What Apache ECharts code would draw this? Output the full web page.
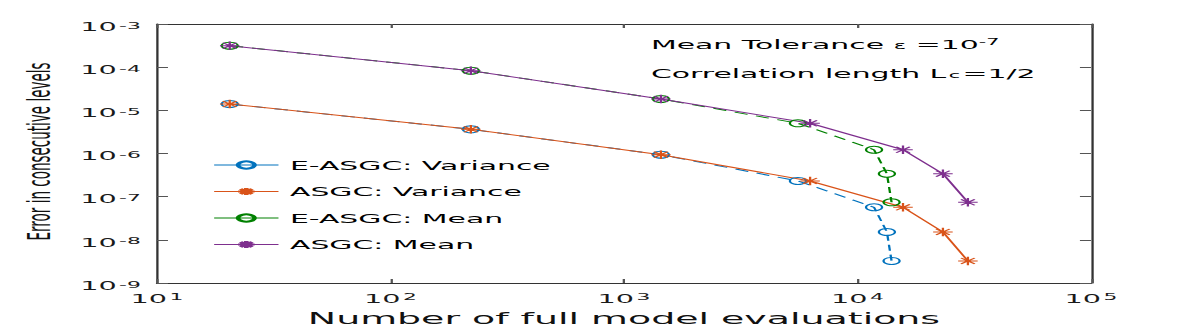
<!DOCTYPE html>
<html>
<head>
<meta charset="utf-8">
<title>Error in consecutive levels</title>
<style>
    html, body { margin: 0; padding: 0; background: #fff; overflow: hidden; }
    /* the original figure is stretched sideways, so draw narrow and widen */
    #error-chart { width: 524px; height: 327px; transform: scaleX(2.29771); transform-origin: 0 0; }
</style>
</head>
<body>
<div id="error-chart"></div>

<script src="https://cdn.jsdelivr.net/npm/echarts@6/dist/echarts.min.js"></script>
<script>
    var seriesNames = ['E-ASGC: Variance', 'ASGC: Variance', 'E-ASGC: Mean', 'ASGC: Mean']
    var evalsEASGC = [20.5, 221, 1440, 5560, 11780, 13370, 14000]
    var evalsASGC = [20.5, 221, 1440, 6270, 15670, 23230, 29720]
    var varianceErr = [1.40e-5, 3.64e-6, 9.38e-7, 2.31e-7, 5.68e-8, 1.52e-8, 3.24e-9]
    var meanErr = [3.14e-4, 8.28e-5, 1.83e-5, 5.01e-6, 1.22e-6, 3.40e-7, 7.41e-8]
    var xTickExp = [1, 2, 3, 4, 5]
    var yTickExp = [-9, -8, -7, -6, -5, -4, -3]

    var font = 'DejaVu Sans'
    var starPath = 'path://M-10,0L10,0M0,-10L0,10M-7,-7L7,7M-7,7L7,-7'

    function pairs(xs, ys) {
        return xs.map(function (x, i) { return [x, ys[i]] })
    }

    function powLabel(v) {
        return '{b|10}{s|' + Math.round(Math.log10(v)) + '}'
    }

    var tickRich = {
        b: { fontFamily: font, fontSize: 12.5, lineHeight: 12.5, verticalAlign: 'bottom', padding: [6, 0, 0, 0], color: '#1a1a1a' },
        s: { fontFamily: font, fontSize: 9.5, lineHeight: 9.5, verticalAlign: 'top', padding: [0, 0, 0, 1], color: '#1a1a1a' }
    }

    var noteRich = {
        a: { fontFamily: font, fontSize: 13, lineHeight: 13, fontWeight: 'normal', verticalAlign: 'bottom', padding: [6, 0, 0, 0], color: '#000' },
        e: { fontFamily: font, fontSize: 10, lineHeight: 10, fontWeight: 'normal', verticalAlign: 'bottom', color: '#000' },
        s: { fontFamily: font, fontSize: 9, lineHeight: 9, fontWeight: 'normal', verticalAlign: 'top', color: '#000' },
        t: { fontFamily: font, fontSize: 13, lineHeight: 13, fontWeight: 'normal', verticalAlign: 'top', padding: [0, 0, 7, 0], color: '#000' },
        c: { fontFamily: font, fontSize: 9, lineHeight: 9, fontWeight: 'normal', verticalAlign: 'bottom', padding: [0, 1, 0, 1], color: '#000' }
    }

    function lineSeries(name, xs, ys, color, dashed, star) {
        return {
            name: name,
            type: 'line',
            data: pairs(xs, ys),
            symbol: star ? starPath : 'circle',
            symbolSize: star ? 8.5 : 7,
            showAllSymbol: true,
            lineStyle: { color: color, width: 1, type: dashed ? [6, 4] : 'solid' },
            itemStyle: { color: star ? color : 'rgba(0,0,0,0)', borderColor: color, borderWidth: 1 },
            emphasis: { disabled: true }
        }
    }

    var axisLine = { show: true, lineStyle: { color: '#333', width: 1 } }
    var xMin = Math.pow(10, xTickExp[0]), xMax = Math.pow(10, xTickExp[xTickExp.length - 1])
    var yMin = Math.pow(10, yTickExp[0]), yMax = Math.pow(10, yTickExp[yTickExp.length - 1])

    var chart = echarts.init(document.getElementById('error-chart'), null, { renderer: 'svg' })
    var option = {
        animation: false,
        textStyle: { fontFamily: font },
        grid: { left: 68.3, right: 49.2, top: 24, bottom: 44, containLabel: false, outerBoundsMode: 'none' },
        title: [
            { text: '{a|Mean Tolerance }{e|ε}{a| =10}{s|-7}', left: 283.3, top: 37.5, padding: 0, textStyle: { fontWeight: 'normal', rich: noteRich } },
            { text: '{t|Correlation length L}{c|c}{t|=1/2}', left: 283.3, top: 66.5, padding: 0, textStyle: { fontWeight: 'normal', rich: noteRich } }
        ],
        legend: {
            data: seriesNames,
            orient: 'vertical',
            left: 92.7,
            top: 158.5,
            padding: 0,
            itemWidth: 28,
            itemHeight: 9,
            itemGap: 13.5,
            lineStyle: { type: 'solid', width: 1 },
            textStyle: { fontFamily: font, fontSize: 13, color: '#000' }
        },
        xAxis: [{
            type: 'log', min: xMin, max: xMax, interval: 1, position: 'bottom',
            axisLine: axisLine,
            axisTick: { inside: true, length: 4, lineStyle: { color: '#555' } },
            axisLabel: { margin: 9, formatter: powLabel, rich: tickRich },
            splitLine: { show: false },
            name: 'Number of full model evaluations', nameLocation: 'middle', nameGap: 26,
            nameTextStyle: { fontFamily: font, fontSize: 16.5, color: '#111' }
        }, {
            type: 'log', min: xMin, max: xMax, interval: 1, position: 'top',
            axisLine: axisLine,
            axisTick: { inside: true, length: 4, lineStyle: { color: '#555' } },
            axisLabel: { show: false },
            splitLine: { show: false }
        }],
        yAxis: [{
            type: 'log', min: yMin, max: yMax, interval: 1, position: 'left',
            axisLine: axisLine,
            axisTick: { inside: true, length: 4.8, lineStyle: { color: '#555' } },
            axisLabel: { margin: 7, padding: [5, 0, 0, 0], formatter: powLabel, rich: tickRich },
            splitLine: { show: false },
            name: 'Error in consecutive levels', nameLocation: 'middle', nameGap: 43,
            nameTextStyle: { fontFamily: font, fontSize: 13.5, color: '#111', padding: [0, 0, 0, 4] }
        }, {
            type: 'log', min: yMin, max: yMax, interval: 1, position: 'right',
            axisLine: axisLine,
            axisTick: { inside: true, length: 4.8, lineStyle: { color: '#555' } },
            axisLabel: { show: false },
            splitLine: { show: false }
        }],
        series: [
            lineSeries(seriesNames[0], evalsEASGC, varianceErr, '#0072BD', true, false),
            lineSeries(seriesNames[1], evalsASGC, varianceErr, '#D95319', false, true),
            lineSeries(seriesNames[2], evalsEASGC, meanErr, '#008000', true, false),
            lineSeries(seriesNames[3], evalsASGC, meanErr, '#7E2F8E', false, true)
        ]
    }
    chart.setOption(option)
</script>
</body>
</html>
